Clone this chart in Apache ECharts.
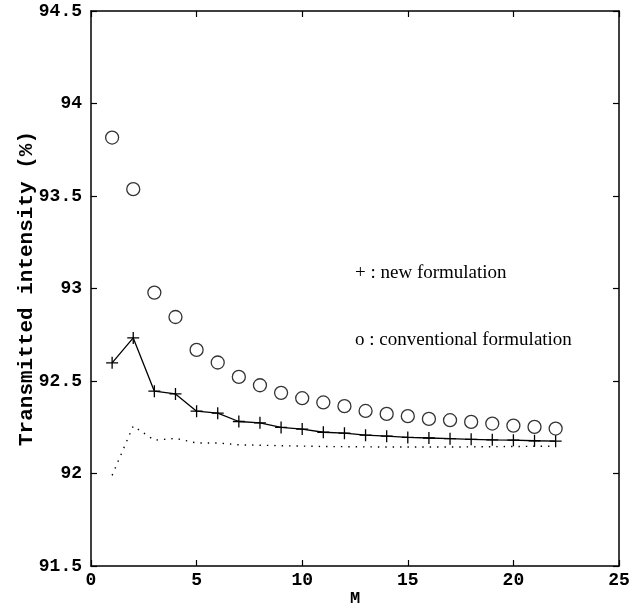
<!DOCTYPE html>
<html lang="en">
<head>
    <meta charset="UTF-8">
    <title>Transmitted intensity</title>
    <script type="text/javascript" src="https://cdn.jsdelivr.net/npm/echarts@6/dist/echarts.min.js"></script>
</head>
<body style="margin: 0; width: 640px; height: 609px; background: #fff">
<div id="container" style="width: 640px; height: 609px"></div>
<script type="text/javascript">
    // M values and the three curves
    var mValues = [1, 2, 3, 4, 5, 6, 7, 8, 9, 10, 11, 12, 13, 14, 15, 16, 17, 18, 19, 20, 21, 22];
    var newForm = [92.598, 92.733, 92.445, 92.430, 92.337, 92.326, 92.281, 92.274, 92.249, 92.240, 92.223,
        92.218, 92.207, 92.202, 92.195, 92.192, 92.188, 92.185, 92.182, 92.180, 92.177, 92.175];
    var convForm = [93.816, 93.537, 92.978, 92.846, 92.668, 92.600, 92.522, 92.477, 92.436, 92.407, 92.384,
        92.364, 92.338, 92.322, 92.310, 92.295, 92.288, 92.279, 92.270, 92.259, 92.252, 92.243];
    var dotted = [91.99, 92.257, 92.18, 92.19, 92.165, 92.165, 92.155, 92.153, 92.15, 92.148, 92.146,
        92.145, 92.144, 92.143, 92.143, 92.143, 92.143, 92.144, 92.145, 92.146, 92.147, 92.148];

    function pairs(ys) {
        return mValues.map(function (m, i) { return [m, ys[i]]; });
    }

    function mono(size) {
        return { fontFamily: 'Liberation Mono', fontWeight: 'bold', fontSize: size, color: '#000' };
    }
    function axisLine() {
        return { onZero: false, lineStyle: { color: '#000', width: 1.5 } };
    }
    function tickIn() {
        return { show: true, inside: true, length: 6, lineStyle: { color: '#000', width: 1.2 } };
    }

    var dom = document.getElementById("container");
    var myChart = echarts.init(dom);

    var option = {
        animation: false,
        grid: { left: 91, right: 21, top: 11, bottom: 43, containLabel: false, outerBoundsMode: 'none' },
        xAxis: [{
            type: 'value', min: 0, max: 25, interval: 5,
            name: 'M', nameLocation: 'middle', nameGap: 24, nameMoveOverlap: false,
            nameTextStyle: mono(17),
            axisLine: axisLine(), axisTick: tickIn(),
            axisLabel: Object.assign({ margin: 5 }, mono(18)),
            splitLine: { show: false }
        }, {
            type: 'value', min: 0, max: 25, interval: 5, position: 'top',
            axisLine: axisLine(), axisTick: tickIn(),
            axisLabel: { show: false }, splitLine: { show: false }
        }],
        yAxis: [{
            type: 'value', min: 91.5, max: 94.5, interval: 0.5, position: 'left',
            name: 'Transmitted intensity (%)', nameLocation: 'middle', nameGap: 54, nameMoveOverlap: false,
            nameTextStyle: mono(21),
            axisLine: axisLine(), axisTick: tickIn(),
            axisLabel: Object.assign({ margin: 9 }, mono(18)),
            splitLine: { show: false }
        }, {
            type: 'value', min: 91.5, max: 94.5, interval: 0.5, position: 'right',
            axisLine: axisLine(), axisTick: tickIn(),
            axisLabel: { show: false }, splitLine: { show: false }
        }],
        graphic: [{
            type: 'text', left: 355, top: 264,
            style: { text: '+ : new formulation', font: '19px "Liberation Serif"', fill: '#000' }
        }, {
            type: 'text', left: 355, top: 331,
            style: { text: 'o : conventional formulation', font: '19px "Liberation Serif"', fill: '#000' }
        }],
        series: [{
            name: 'dotted',
            type: 'line',
            data: pairs(dotted),
            symbol: 'none',
            lineStyle: { color: '#000', width: 1.4, type: [1.4, 6] }
        }, {
            name: 'new formulation',
            type: 'line',
            data: pairs(newForm),
            symbol: 'path://M0,6L12,6M6,0L6,12',
            symbolSize: 12,
            itemStyle: { color: '#000', borderColor: '#000', borderWidth: 1.3 },
            lineStyle: { color: '#000', width: 1.3 }
        }, {
            name: 'conventional formulation',
            type: 'scatter',
            data: pairs(convForm),
            symbol: 'circle',
            symbolSize: 13,
            itemStyle: { color: '#fff', borderColor: '#000', borderWidth: 1.3 }
        }]
    };
    myChart.setOption(option);
</script>
</body>
</html>
